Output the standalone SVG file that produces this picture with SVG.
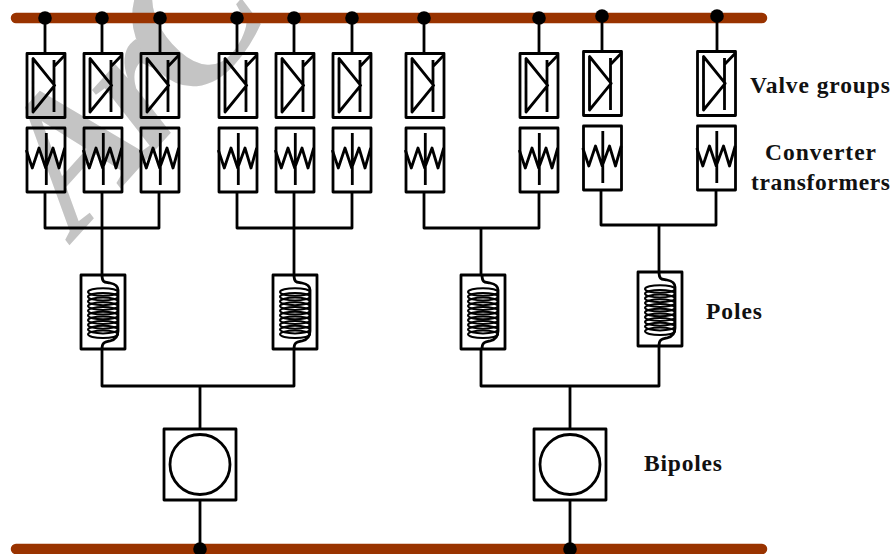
<svg xmlns="http://www.w3.org/2000/svg" width="894" height="554" viewBox="0 0 894 554">
<style>
.w{fill:none;stroke:#000;stroke-width:2.800;stroke-linejoin:round}
.b{fill:none;stroke:#000;stroke-width:2.800;stroke-linejoin:round}
.f{fill:#fff;stroke:#000;stroke-width:2.800;stroke-linejoin:round}
.c{fill:none;stroke:#000;stroke-width:2}
.bus{fill:none;stroke:#993300;stroke-width:10.500;stroke-linecap:round}
.lab{font-family:"Liberation Serif",serif;font-weight:bold;font-size:23.500px;fill:#111}
.wm{font-family:"Liberation Serif",serif;font-style:italic;font-weight:bold;font-size:190px;letter-spacing:-14px;fill:#c4c4c4}
</style>
<defs>
<g id="valve"><rect class="b" width="38" height="64"/><path class="w" d="M27 13L38 1.500M27 6.500V58.500M6 5V58.500L27.700 31.800Z"/></g>
<g id="trafo"><rect class="b" width="38" height="64"/><path class="w" d="M-.7 22L5.300 40L12 20L18.700 40L26 20L32 40L37.700 20M19.300 5V57"/></g>
<g id="reactor"><rect class="f" width="44" height="74"/><path class="w" d="M21 0C21 8 24 7 29 8C34 9 37 11 37 15V56C37 63 33 65 29 66C24 67 21 67 21 74"/>
<g class="c"><ellipse cx="22" cy="17" rx="15" ry="3.800"/><ellipse cx="22" cy="21.700" rx="15" ry="3.800"/><ellipse cx="22" cy="26.400" rx="15" ry="3.800"/><ellipse cx="22" cy="31.100" rx="15" ry="3.800"/><ellipse cx="22" cy="35.800" rx="15" ry="3.800"/><ellipse cx="22" cy="40.500" rx="15" ry="3.800"/><ellipse cx="22" cy="45.200" rx="15" ry="3.800"/><ellipse cx="22" cy="49.900" rx="15" ry="3.800"/><ellipse cx="22" cy="54.600" rx="15" ry="3.800"/><ellipse cx="22" cy="59.300" rx="15" ry="3.800"/></g></g>
<g id="bipole"><rect class="f" width="72" height="71"/><circle class="w" cx="36" cy="35.500" r="30"/></g>
</defs>
<text class="wm" id="watermark" transform="translate(76,238) rotate(-48)">ArC</text>
<g id="buses"><path class="bus" d="M16 18H762"/><path class="bus" d="M16 549H762"/></g>
<g id="connectors" class="w">
<path d="M45 18V54M102 18V54M160 18V54M237 18V54M294 18V54M352 18V54M424 18V54M539 18V54M602 18V52M717 18V52"/>
<path d="M45 192V228H159V192M102 192V275M237 192V228H352V192M294 192V275M424 192V228H539V192M481 228V275M601 190V225H716V190M659 225V272"/>
<path d="M102 349V386H294V349M200 386V429M200 500V549M481 349V386H659V346M570 386V429M570 500V549"/>
</g>
<g id="dots"><circle cx="45" cy="18" r="6.800"/><circle cx="102" cy="18" r="6.800"/><circle cx="160" cy="18" r="6.800"/><circle cx="237" cy="18" r="6.800"/><circle cx="294" cy="18" r="6.800"/><circle cx="352" cy="18" r="6.800"/><circle cx="424" cy="18" r="6.800"/><circle cx="539" cy="18" r="6.800"/><circle cx="602" cy="16" r="6.800"/><circle cx="717" cy="16" r="6.800"/><circle cx="200" cy="549" r="6.800"/><circle cx="570" cy="549" r="6.800"/></g>
<g id="valve-groups">
<use href="#valve" x="27" y="53.500"/><use href="#valve" x="84" y="53.500"/><use href="#valve" x="141" y="53.500"/><use href="#valve" x="219" y="53.500"/><use href="#valve" x="276" y="53.500"/><use href="#valve" x="333" y="53.500"/><use href="#valve" x="406" y="53.500"/><use href="#valve" x="520" y="53.500"/><use href="#valve" x="583.500" y="51.500"/><use href="#valve" x="697.500" y="51.500"/>
</g>
<g id="converter-transformers">
<use href="#trafo" x="27" y="128"/><use href="#trafo" x="84" y="128"/><use href="#trafo" x="141" y="128"/><use href="#trafo" x="219" y="128"/><use href="#trafo" x="276" y="128"/><use href="#trafo" x="333" y="128"/><use href="#trafo" x="406" y="128"/><use href="#trafo" x="520" y="128"/><use href="#trafo" x="583.500" y="126"/><use href="#trafo" x="697.500" y="126"/>
</g>
<g id="poles">
<use href="#reactor" x="81" y="275"/><use href="#reactor" x="273" y="275"/><use href="#reactor" x="461" y="275"/><use href="#reactor" x="638" y="272"/>
</g>
<g id="bipoles"><use href="#bipole" x="164" y="429"/><use href="#bipole" x="534" y="429"/></g>
<g id="labels">
<text class="lab" x="750" y="93" textLength="140">Valve groups</text>
<text class="lab" x="765" y="160" textLength="111">Converter</text>
<text class="lab" x="751" y="190" textLength="139">transformers</text>
<text class="lab" x="706" y="319" textLength="56">Poles</text>
<text class="lab" x="644" y="471" textLength="78">Bipoles</text>
</g>
</svg>
